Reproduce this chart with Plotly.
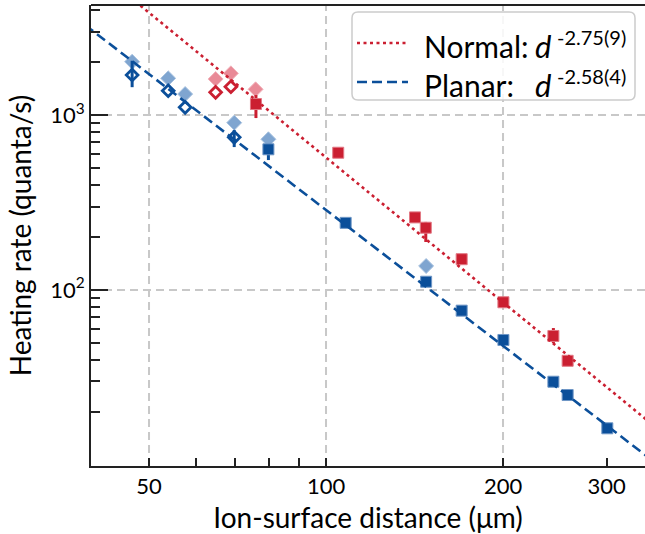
import numpy as np
import plotly.graph_objects as go

# ---------------- data ----------------
# Planar trap: filled squares
planar_sq_x = [79.8, 108.0, 148.0, 170.1, 200.3, 243.6, 257.6, 300.9]
planar_sq_y = [637, 242, 111.5, 76.2, 51.8, 29.9, 25.1, 16.2]
planar_sq_ep = [37, 0, 0, 0, 0, 0, 0, 0]
planar_sq_em = [84, 0, 0, 0, 0, 0, 0, 0]
# Planar trap: light diamonds
planar_ld_x = [46.8, 53.9, 57.6, 69.8, 79.8, 148.0]
planar_ld_y = [2017, 1621, 1318, 904, 727, 137.1]
# Planar trap: open diamonds
planar_od_x = [46.8, 53.9, 57.6, 69.8]
planar_od_y = [1693, 1377, 1107, 746]
planar_od_ep = [350, 0, 0, 75]
planar_od_em = [250, 0, 0, 90]

# Normal trap: filled squares
normal_sq_x = [76.0, 104.9, 141.7, 147.8, 170.1, 200.3, 243.6, 257.6]
normal_sq_y = [1156, 609, 260, 227, 150, 85.1, 54.6, 39.4]
normal_sq_ep = [145, 0, 0, 18, 0, 0, 6, 0]
normal_sq_em = [195, 0, 0, 39, 0, 0, 5, 0]
# Normal trap: light diamonds
normal_ld_x = [64.9, 68.9, 75.9]
normal_ld_y = [1606, 1731, 1403]
# Normal trap: open diamonds
normal_od_x = [64.9, 68.9]
normal_od_y = [1348, 1451]

# power-law fits: value at d = 100 um and exponent
normal_fit = {"at100": 572.0, "exp": -2.75}
planar_fit = {"at100": 286.7, "exp": -2.58}

legend_labels = ["Normal:", "Planar:"]
legend_exps = ["-2.75(9)", "-2.58(4)"]

x_tick_vals = [50, 100, 200, 300]
x_tick_text = ["50", "100", "200", "300"]
y_tick_vals = [100, 1000]
y_tick_text = ["10<sup>2</sup>", "10<sup>3</sup>"]

# ---------------- style ----------------
RED = "#CB1F31"
BLUE = "#0B4F9A"
LRED = "#E98A97"
LBLUE = "#7FA5D0"
FONT = "Lato"
AX = "#222222"

x_range_log = [1.6003, 2.5425]
y_range_log = [0.994, 3.629]

fig = go.Figure()

def err(ep, em, color):
    return dict(type="data", symmetric=False, array=ep, arrayminus=em,
                color=color, thickness=3, width=0)

# light diamonds
fig.add_trace(go.Scatter(x=planar_ld_x, y=planar_ld_y, mode="markers", showlegend=False,
                         marker=dict(symbol="diamond", size=11.5, color=LBLUE,
                                     line=dict(width=1, color="#A9C3E0"))))
fig.add_trace(go.Scatter(x=normal_ld_x, y=normal_ld_y, mode="markers", showlegend=False,
                         marker=dict(symbol="diamond", size=11.5, color=LRED,
                                     line=dict(width=1, color="#F2B3BB"))))
# open diamonds
fig.add_trace(go.Scatter(x=planar_od_x, y=planar_od_y, mode="markers", showlegend=False,
                         error_y=err(planar_od_ep, planar_od_em, BLUE),
                         marker=dict(symbol="diamond-open", size=9, color=BLUE,
                                     line=dict(width=2.8, color=BLUE))))
fig.add_trace(go.Scatter(x=normal_od_x, y=normal_od_y, mode="markers", showlegend=False,
                         marker=dict(symbol="diamond-open", size=9, color=RED,
                                     line=dict(width=2.8, color=RED))))
# filled squares
fig.add_trace(go.Scatter(x=planar_sq_x, y=planar_sq_y, mode="markers", showlegend=False,
                         error_y=err(planar_sq_ep, planar_sq_em, BLUE),
                         marker=dict(symbol="square", size=11, color=BLUE,
                                     line=dict(width=1, color="#6E96C6"))))
fig.add_trace(go.Scatter(x=normal_sq_x, y=normal_sq_y, mode="markers", showlegend=False,
                         error_y=err(normal_sq_ep, normal_sq_em, RED),
                         marker=dict(symbol="square", size=11, color=RED,
                                     line=dict(width=1, color="#E27884"))))

# fit lines
RED_DASH = "3px,3.5px"
BLUE_DASH = "10px,5px"
xf = np.logspace(x_range_log[0] - 0.01, x_range_log[1] + 0.01, 60)
yn = normal_fit["at100"] * (xf / 100.0) ** normal_fit["exp"]
yp = planar_fit["at100"] * (xf / 100.0) ** planar_fit["exp"]
fig.add_trace(go.Scatter(x=xf, y=yn, mode="lines", showlegend=False,
                         line=dict(color=RED, width=2.6, dash=RED_DASH)))
fig.add_trace(go.Scatter(x=xf, y=yp, mode="lines", showlegend=False,
                         line=dict(color=BLUE, width=2.6, dash=BLUE_DASH)))

# gridlines
GRID = dict(color="#C8C8C8", width=2, dash="8px,5px")
for gx in [50, 100, 200]:
    fig.add_shape(type="line", xref="x", yref="paper", x0=gx, x1=gx, y0=0, y1=1,
                  line=GRID, layer="below")
for gy in [100, 1000]:
    fig.add_shape(type="line", xref="paper", yref="y", x0=0, x1=1, y0=gy, y1=gy,
                  line=GRID, layer="below")
# top spine
fig.add_shape(type="line", xref="paper", yref="paper", x0=0, x1=1, y0=1, y1=1,
              line=dict(color=AX, width=2))

# ---- legend (drawn by hand, in plot-area paper coordinates) ----
L, R, T, B = 91, 645, 5, 466
def px(xp):
    return (xp - L) / (R - L)
def py(yp):
    return (B - yp) / (B - T)

bx0, bx1, by0, by1, rr = px(352), px(635), py(12), py(100), 6
rx = rr / (R - L)
ry = rr / (B - T)
path = (f"M {bx0+rx},{by0} L {bx1-rx},{by0} Q {bx1},{by0} {bx1},{by0-ry} "
        f"L {bx1},{by1+ry} Q {bx1},{by1} {bx1-rx},{by1} L {bx0+rx},{by1} "
        f"Q {bx0},{by1} {bx0},{by1+ry} L {bx0},{by0-ry} Q {bx0},{by0} {bx0+rx},{by0} Z")
fig.add_shape(type="path", xref="paper", yref="paper", path=path,
              fillcolor="rgba(255,255,255,0.85)", line=dict(color="#CCCCCC", width=1.5))

rows = [(43, RED, RED_DASH), (82, BLUE, BLUE_DASH)]
for i, (yl, col, dsh) in enumerate(rows):
    fig.add_shape(type="line", xref="paper", yref="paper",
                  x0=px(357), x1=px(408), y0=py(yl), y1=py(yl),
                  line=dict(color=col, width=2.6, dash=dsh))
    fig.add_annotation(xref="paper", yref="paper", x=px(422), y=py(yl + 3),
                       xanchor="left", yanchor="middle", showarrow=False,
                       text=legend_labels[i], font=dict(size=30, family=FONT, color="black"))
    fig.add_annotation(xref="paper", yref="paper", x=px(533), y=py(yl + 3),
                       xanchor="left", yanchor="middle", showarrow=False,
                       text="<i>d</i>", font=dict(size=31, family=FONT, color="black"))
    fig.add_annotation(xref="paper", yref="paper", x=px(555), y=py(yl - 6),
                       xanchor="left", yanchor="middle", showarrow=False,
                       text=legend_exps[i], font=dict(size=20, family=FONT, color="black"))

fig.update_layout(
    width=645, height=534,
    margin=dict(l=L, r=645 - R, t=T, b=534 - B),
    paper_bgcolor="white", plot_bgcolor="white",
    font=dict(family=FONT, color="black"),
    showlegend=False,
)
fig.update_xaxes(type="log", range=x_range_log,
                 showline=True, linecolor=AX, linewidth=2,
                 tickmode="array", tickvals=x_tick_vals, ticktext=x_tick_text,
                 ticks="inside", ticklen=8, tickwidth=2, tickcolor=AX,
                 tickfont=dict(size=22, family=FONT),
                 showgrid=False, zeroline=False,
                 minor=dict(tickmode="array", tickvals=[60, 70, 80, 90],
                            ticks="inside", ticklen=8, tickwidth=2, tickcolor=AX,
                            showgrid=False),
                 title=dict(text="Ion-surface distance (μm)", font=dict(size=28, family=FONT),
                            standoff=10))
fig.update_yaxes(type="log", range=y_range_log,
                 showline=True, linecolor=AX, linewidth=2,
                 tickmode="array", tickvals=y_tick_vals, ticktext=y_tick_text,
                 ticks="inside", ticklen=17, tickwidth=2, tickcolor=AX,
                 tickfont=dict(size=22, family=FONT),
                 showgrid=False, zeroline=False,
                 minor=dict(tickmode="array",
                            tickvals=[20, 30, 40, 50, 60, 70, 80, 90,
                                      200, 300, 400, 500, 600, 700, 800, 900,
                                      2000, 3000, 4000],
                            ticks="inside", ticklen=9, tickwidth=2, tickcolor=AX,
                            showgrid=False),
                 title=dict(text="Heating rate (quanta/s)", font=dict(size=28, family=FONT),
                            standoff=10))

fig.write_html("out.html", config={"displayModeBar": False},
               post_script="document.body.style.margin='0';")
